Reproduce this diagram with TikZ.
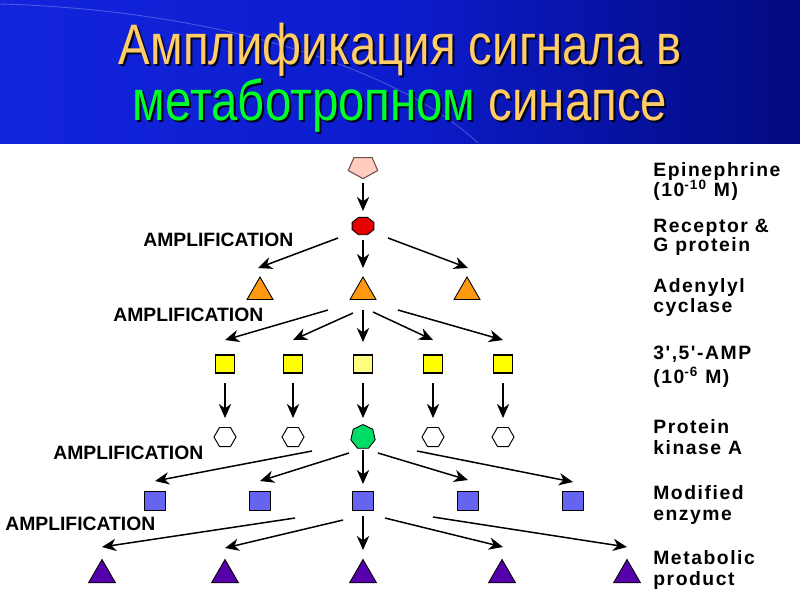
\documentclass[tikz,border=0pt]{standalone}
\usepackage{fontspec}
\setmainfont{Liberation Sans}
\newfontfamily\titlefont[FakeStretch=0.83]{Liberation Sans}
\newfontfamily\ampfont{Liberation Sans}
\newfontfamily\lblfont[LetterSpace=8]{Liberation Sans}
\usetikzlibrary{shapes.geometric,arrows.meta,calc}
\definecolor{hbA}{RGB}{25,45,235}
\definecolor{hbB}{RGB}{12,28,205}
\definecolor{hbC}{RGB}{0,6,110}
\definecolor{torange}{RGB}{255,204,102}
\definecolor{tgreen}{RGB}{0,255,40}
\definecolor{pentc}{RGB}{255,204,190}
\definecolor{pentd}{RGB}{110,80,80}
\definecolor{redc}{RGB}{230,0,0}
\definecolor{orng}{RGB}{255,153,17}
\definecolor{yel}{RGB}{255,255,0}
\definecolor{yellt}{RGB}{255,255,130}
\definecolor{grn}{RGB}{0,221,102}
\definecolor{blu}{RGB}{100,100,240}
\definecolor{purp}{RGB}{85,0,170}
\pgfdeclarehorizontalshading{hdr}{100bp}{color(0bp)=(hbA); color(50bp)=(hbB); color(80bp)=(hbC); color(100bp)=(black)}
\begin{document}
\begin{tikzpicture}[x=0.02cm,y=-0.02cm,
  arr/.style={-{Stealth[length=8pt,width=7pt,inset=2.5pt]}, line width=0.85pt},
  pent/.style={regular polygon, regular polygon sides=5, shape border rotate=180, fill=pentc, draw=pentd, line width=0.6pt, minimum size=0.62cm, inner sep=0pt, transform shape},
  oct/.style={regular polygon, regular polygon sides=8, fill=redc, draw=black, line width=0.5pt, minimum size=0.47cm, inner sep=0pt, transform shape},
  tri/.style={regular polygon, regular polygon sides=3, draw=black, line width=0.5pt, inner sep=0pt},
  otri/.style={tri, fill=orng, minimum size=0.6cm},
  ptri/.style={tri, fill=purp, minimum size=0.62cm},
  ysq/.style={rectangle, draw=black, line width=0.6pt, inner sep=0pt, fill=yel, minimum width=0.38cm, minimum height=0.36cm},
  bsq/.style={rectangle, draw=black, line width=0.6pt, inner sep=0pt, fill=blu, minimum width=0.42cm, minimum height=0.38cm},
  hex/.style={regular polygon, regular polygon sides=6, draw=black, line width=0.55pt, inner sep=0pt, minimum size=0.44cm, fill=white},
  hep/.style={regular polygon, regular polygon sides=7, draw=black, line width=0.5pt, inner sep=0pt, minimum size=0.5cm, fill=grn},
  amp/.style={anchor=west, inner sep=0pt, font=\ampfont\bfseries\fontsize{11pt}{12pt}\selectfont},
  lbl/.style={anchor=base west, inner sep=0pt, font=\lblfont\bfseries\fontsize{11pt}{12pt}\selectfont},
  ttl/.style={anchor=base, inner sep=0pt, font=\titlefont\fontsize{32.5pt}{34pt}\selectfont}
]
\useasboundingbox (0,0) rectangle (800,600);
\fill[white] (0,0) rectangle (800,600);
\shade[shading=hdr] (0,0) rectangle (800,143);
\draw[white, opacity=0.25, line width=0.5pt] (0,4) .. controls (220,10) and (400,70) .. (478,143);

% title
\node[ttl, text=black, opacity=0.85] (ts1) at (402,66) {Амплификация сигнала в};
\node[ttl, text=torange] (t1) at (400,64) {Амплификация сигнала в};
\node[ttl, text=black, opacity=0.85] (ts2) at (402,122) {метаботропном синапсе};
\node[ttl] (t2) at (400,120) {\textcolor{tgreen}{метаботропном} \textcolor{torange}{синапсе}};

% nodes
\begin{scope}[shift={(363,167)},yscale=0.75]
\node[pent] (P) at (0,0) {};
\end{scope}
\begin{scope}[shift={(363,226)},yscale=0.8]
\node[oct] (R) at (0,0) {};
\end{scope}
\node[otri] (A1) at (260,292) {};
\node[otri] (A2) at (363,292) {};
\node[otri] (A3) at (467,292) {};
\node[ysq] (Y1) at (225,364) {};
\node[ysq] (Y2) at (293,364) {};
\node[ysq, fill=yellt] (Y3) at (363,364) {};
\node[ysq] (Y4) at (433,364) {};
\node[ysq] (Y5) at (503,364) {};
\node[hex] (H1) at (225,437) {};
\node[hex] (H2) at (293,437) {};
\node[hep] (H3) at (363,437) {};
\node[hex] (H4) at (433,437) {};
\node[hex] (H5) at (503,437) {};
\node[bsq] (B1) at (155,501) {};
\node[bsq] (B2) at (260,501) {};
\node[bsq] (B3) at (363,501) {};
\node[bsq] (B4) at (468,501) {};
\node[bsq] (B5) at (573,501) {};
\node[ptri] (M1) at (102,575) {};
\node[ptri] (M2) at (225,575) {};
\node[ptri] (M3) at (363,575) {};
\node[ptri] (M4) at (502,575) {};
\node[ptri] (M5) at (627,575) {};

% arrows
\draw[arr] ($(P)+(0,16)$) -- ($(R)+(0,-15)$);
\draw[arr] ($(R)+(0,14)$) -- ($(A2)+(0,-24)$);
\draw[arr] ($(R)+(-25,12)$) -- ($(A1)+(-2,-24)$);
\draw[arr] ($(R)+(25,12)$) -- ($(A3)+(1,-24)$);
\draw[arr] ($(A2)+(-35,18)$) -- ($(Y1)+(0,-24)$);
\draw[arr] ($(A2)+(-10,21)$) -- ($(Y2)+(0,-24)$);
\draw[arr] ($(A2)+(0,18)$) -- ($(Y3)+(0,-22)$);
\draw[arr] ($(A2)+(10,20)$) -- ($(Y4)+(0,-24)$);
\draw[arr] ($(A2)+(35,18)$) -- ($(Y5)+(0,-24)$);
\foreach \i in {1,...,5}{
  \draw[arr] ($(Y\i)+(0,19)$) -- ($(H\i)+(0,-19)$);
}
\draw[arr] ($(H3)+(-51,14)$) -- ($(B1)+(0,-20)$);
\draw[arr] ($(H3)+(-14,16)$) -- ($(B2)+(0,-20)$);
\draw[arr] ($(H3)+(0,13)$) -- ($(B3)+(0,-17)$);
\draw[arr] ($(H3)+(15,16)$) -- ($(B4)+(0,-21)$);
\draw[arr] ($(H3)+(54,14)$) -- ($(B5)+(0,-19)$);
\draw[arr] ($(B3)+(-68,17)$) -- ($(M1)+(0,-28)$);
\draw[arr] ($(B3)+(-20,19)$) -- ($(M2)+(0,-27)$);
\draw[arr] ($(B3)+(0,15)$) -- ($(M3)+(0,-25)$);
\draw[arr] ($(B3)+(22,17)$) -- ($(M4)+(1,-28)$);
\draw[arr] ($(B3)+(70,16)$) -- ($(M5)+(0,-28)$);

% amplification labels
\node[amp] (L1) at (143,240) {AMPLIFICATION};
\node[amp] (L2) at (113,315) {AMPLIFICATION};
\node[amp] (L3) at (53,453) {AMPLIFICATION};
\node[amp] (L4) at (5,524) {AMPLIFICATION};

% right labels
\node[lbl] (e1) at (653,176) {Epinephrine};
\node[lbl] (e2) at (653,196) {(10\textsuperscript{-10} M)};
\node[lbl] (r1) at (653,232) {Receptor \&};
\node[lbl] (r2) at (653,251) {G protein};
\node[lbl] (c1) at (653,292) {Adenylyl};
\node[lbl] (c2) at (653,312) {cyclase};
\node[lbl] (m1) at (653,359) {3',5'-AMP};
\node[lbl] (m2) at (653,383) {(10\textsuperscript{-6} M)};
\node[lbl] (k1) at (653,433) {Protein};
\node[lbl] (k2) at (653,454) {kinase A};
\node[lbl] (z1) at (653,499) {Modified};
\node[lbl] (z2) at (653,520) {enzyme};
\node[lbl] (p1) at (653,564) {Metabolic};
\node[lbl] (p2) at (653,585) {product};
\end{tikzpicture}
\end{document}
